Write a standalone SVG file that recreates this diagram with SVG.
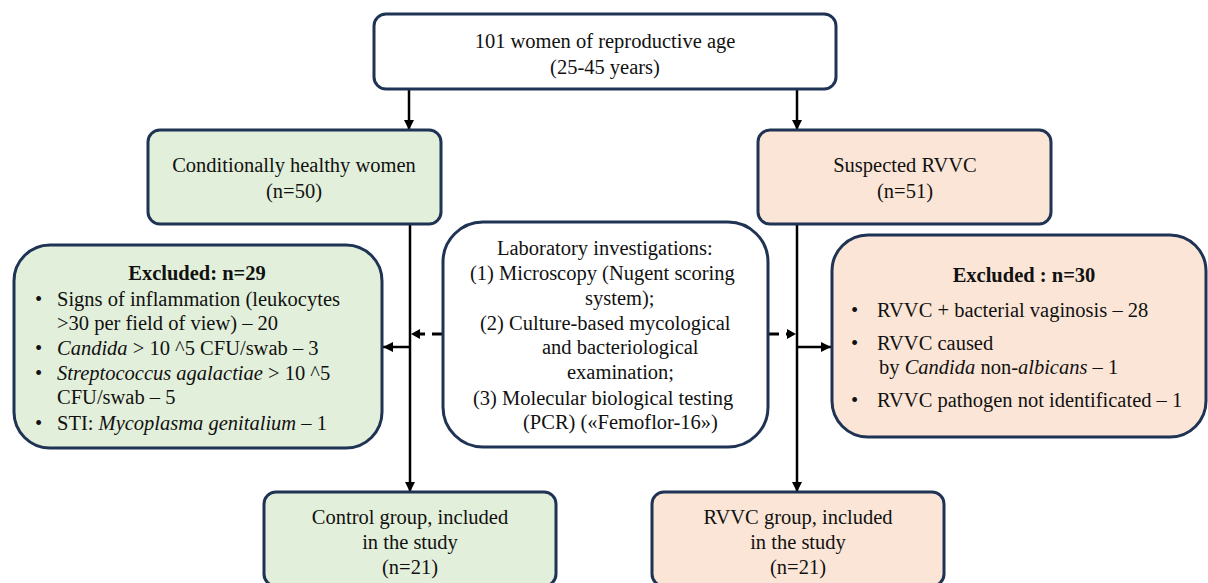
<svg xmlns="http://www.w3.org/2000/svg" width="1208" height="583" viewBox="0 0 1208 583">
<style>
.t{font-family:"Liberation Serif",serif;font-size:20.5px;fill:#111}
.c{text-anchor:middle}
.b{font-weight:bold}
.i{font-style:italic}
.box{stroke:#1f3354;stroke-width:3}
.g{fill:#e2efda}.o{fill:#fbe5d6}.w{fill:#ffffff}
.ln{stroke:#000;stroke-width:2.5;fill:none}
.dash{stroke:#000;stroke-width:3;fill:none;stroke-dasharray:11 7}
</style>
<defs>
<marker id="ah" viewBox="0 0 10 10" refX="10" refY="5" markerWidth="4" markerHeight="4" orient="auto" markerUnits="strokeWidth">
<path d="M0,0 L10,5 L0,10 z" fill="#000"/>
</marker>
</defs>
<g font-family="Liberation Serif, serif" font-size="20.5">
<g id="connectors">
<line class="ln" x1="409" y1="89" x2="409" y2="130" marker-end="url(#ah)"/>
<line class="ln" x1="797" y1="89" x2="797" y2="130" marker-end="url(#ah)"/>
<line class="ln" x1="410" y1="224" x2="410" y2="492" marker-end="url(#ah)"/>
<line class="ln" x1="797" y1="224" x2="797" y2="492" marker-end="url(#ah)"/>
<line class="ln" x1="410" y1="347" x2="383" y2="347" marker-end="url(#ah)"/>
<line class="ln" x1="797" y1="347" x2="831" y2="347" marker-end="url(#ah)"/>
<line class="dash" x1="443" y1="334" x2="419" y2="334"/>
<path d="M420,329 L411,334 L420,339 z" fill="#000"/>
<line class="dash" x1="768" y1="334" x2="788" y2="334"/>
<path d="M787,329 L796,334 L787,339 z" fill="#000"/>
</g>
<g id="top">
<rect class="box w" x="374" y="14" width="462" height="75" rx="12"/>
<text class="t c" x="605" y="48">101 women of reproductive age</text>
<text class="t c" x="605" y="74">(25-45 years)</text>
</g>
<g id="healthy">
<rect class="box g" x="148" y="130" width="293" height="94" rx="12"/>
<text class="t c" x="294" y="172">Conditionally healthy women</text>
<text class="t c" x="294" y="198">(n=50)</text>
</g>
<g id="suspected">
<rect class="box o" x="758" y="130" width="293" height="94" rx="12"/>
<text class="t c" x="905" y="172">Suspected RVVC</text>
<text class="t c" x="905" y="198">(n=51)</text>
</g>
<g id="excluded-left">
<rect class="box g" x="14" y="245" width="368" height="203" rx="36"/>
<text class="t c b" x="197" y="280">Excluded: n=29</text>
<text class="t" x="35" y="306">•</text><text class="t" x="57" y="306">Signs of inflammation (leukocytes</text>
<text class="t" x="57" y="330">&gt;30 per field of view) – 20</text>
<text class="t" x="35" y="355">•</text><text class="t" x="57" y="355"><tspan class="i">Candida</tspan> &gt; 10 ^5 CFU/swab – 3</text>
<text class="t" x="35" y="380">•</text><text class="t" x="57" y="380"><tspan class="i">Streptococcus agalactiae</tspan> &gt; 10 ^5</text>
<text class="t" x="57" y="404">CFU/swab – 5</text>
<text class="t" x="35" y="430">•</text><text class="t" x="57" y="430">STI:  <tspan class="i">Mycoplasma genitalium</tspan> – 1</text>
</g>
<g id="lab">
<rect class="box w" x="443" y="222" width="325" height="225" rx="40"/>
<text class="t" x="497" y="255">Laboratory investigations:</text>
<text class="t" x="470" y="280">(1) Microscopy (Nugent scoring</text>
<text class="t" x="585" y="305">system);</text>
<text class="t" x="480" y="330">(2) Culture-based mycological</text>
<text class="t" x="542" y="354">and bacteriological</text>
<text class="t" x="567" y="379">examination;</text>
<text class="t" x="473" y="405">(3) Molecular biological testing</text>
<text class="t" x="523" y="429">(PCR) («Femoflor-16»)</text>
</g>
<g id="excluded-right">
<rect class="box o" x="832" y="235" width="374" height="202" rx="36"/>
<text class="t c b" x="1024" y="282">Excluded : n=30</text>
<text class="t" x="851" y="317">•</text><text class="t" x="877" y="317">RVVC + bacterial  vaginosis – 28</text>
<text class="t" x="851" y="350">•</text><text class="t" x="877" y="350">RVVC  caused</text>
<text class="t" x="879" y="374">by <tspan class="i">Candida</tspan> non-<tspan class="i">albicans</tspan> – 1</text>
<text class="t" x="851" y="407">•</text><text class="t" x="877" y="407">RVVC  pathogen not identificated  – 1</text>
</g>
<g id="control">
<rect class="box g" x="264" y="492" width="292" height="94" rx="12"/>
<text class="t c" x="410" y="524">Control group, included</text>
<text class="t c" x="410" y="549">in the study</text>
<text class="t c" x="410" y="574">(n=21)</text>
</g>
<g id="rvvc">
<rect class="box o" x="652" y="492" width="292" height="94" rx="12"/>
<text class="t c" x="798" y="524">RVVC group, included</text>
<text class="t c" x="798" y="549">in the study</text>
<text class="t c" x="798" y="574">(n=21)</text>
</g>
</g>
</svg>
